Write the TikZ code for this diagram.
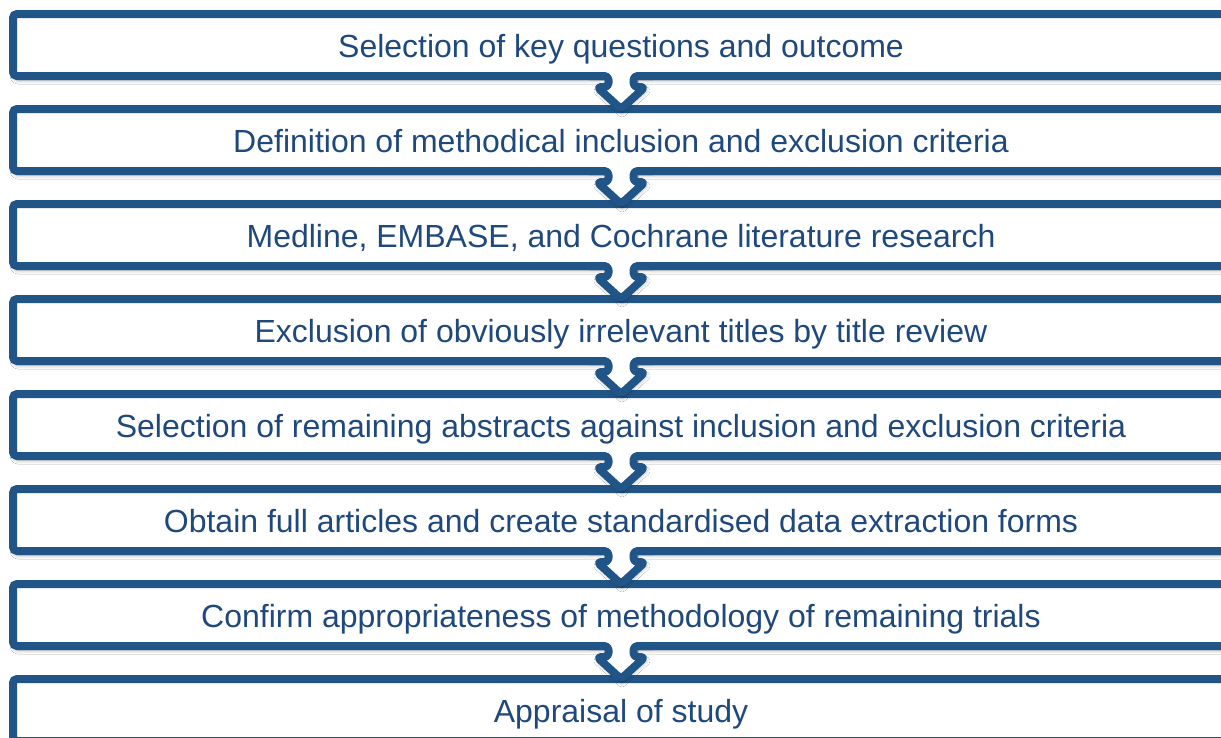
\documentclass[tikz,border=0pt]{standalone}
\usepackage{fontspec}
\setmainfont{Liberation Sans}
\usetikzlibrary{calc,shadows.blur}
\definecolor{frame}{RGB}{33,85,135}
\definecolor{ink}{RGB}{31,73,125}
\tikzset{
  stage/.style={draw=frame, line width=8pt, fill=white, rounded corners=4pt,
    minimum width=1216pt, minimum height=62pt, inner sep=0pt, outer sep=0pt,
    text=ink, font=\fontsize{32}{38}\selectfont, text height=24pt, text depth=0pt,
    blur shadow={shadow xshift=1pt, shadow yshift=-4pt, shadow blur radius=4pt,
      shadow blur steps=6, shadow opacity=35}},
  chevfill/.style={fill=white,
    blur shadow={shadow xshift=1pt, shadow yshift=-4pt, shadow blur radius=4pt,
      shadow blur steps=6, shadow opacity=35}},
  chevline/.style={draw=frame, line width=8pt, rounded corners=4pt, line join=round},
}
% block arrow leading out of stage #1 into stage #2
\newcommand\chevron[2]{%
  \path[chevfill] ($(#1.south)+(-12.5,0)$) -- ++(0,11) -- ++(-11.5,0)
    -- ($(#2.north)+(0,0)$) -- ++(24,-22) -- ++(-11.5,0) -- ++(0,-11) -- cycle;
  \fill[white] ($(#1.south)+(-16.5,-4.5)$) rectangle ($(#1.south)+(16.5,4.5)$);
  \draw[chevline] ($(#1.south)+(-32,0)$) -- ++(19.5,0) -- ++(0,11) -- ++(-11.5,0)
    -- ($(#2.north)+(0,0)$) -- ++(24,-22) -- ++(-11.5,0) -- ++(0,-11) -- ++(19.5,0);
}
\begin{document}
\begin{tikzpicture}[x=1pt, y=-1pt]
  \useasboundingbox (0,0) rectangle (1221,737);
  \clip (0,0) rectangle (1221,737);
  \fill[white] (0,0) rectangle (1221,737);

  \node[stage] (s1) at (621,45)  {Selection of key questions and outcome};
  \node[stage] (s2) at (621,140) {Definition of methodical inclusion and exclusion criteria};
  \node[stage] (s3) at (621,235) {Medline, EMBASE, and Cochrane literature research};
  \node[stage] (s4) at (621,330) {Exclusion of obviously irrelevant titles by title review};
  \node[stage] (s5) at (621,425) {Selection of remaining abstracts against inclusion and exclusion criteria};
  \node[stage] (s6) at (621,520) {Obtain full articles and create standardised data extraction forms};
  \node[stage] (s7) at (621,615) {Confirm appropriateness of methodology of remaining trials};
  \node[stage] (s8) at (621,710) {Appraisal of study};

  \chevron{s1}{s2}
  \chevron{s2}{s3}
  \chevron{s3}{s4}
  \chevron{s4}{s5}
  \chevron{s5}{s6}
  \chevron{s6}{s7}
  \chevron{s7}{s8}
\end{tikzpicture}
\end{document}
